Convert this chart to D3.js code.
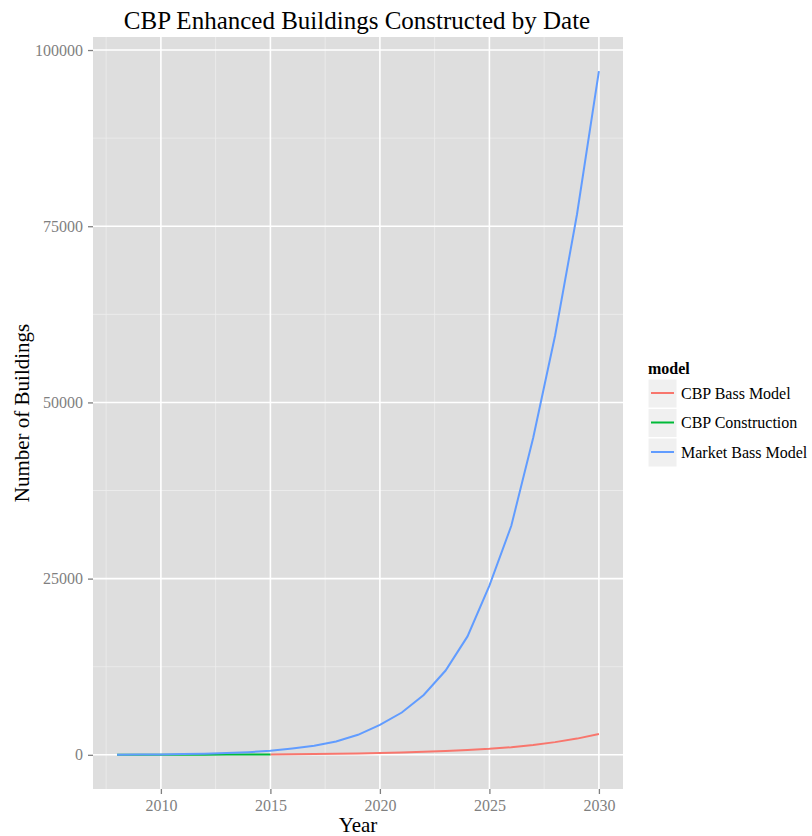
<!DOCTYPE html>
<html>
<head>
<meta charset="utf-8">
<title>CBP Enhanced Buildings Constructed by Date</title>
<script src="https://d3js.org/d3.v7.min.js"></script>
<style>
  body { margin: 0; background: #fff; }
  text { font-family: "Liberation Serif", "DejaVu Serif", serif; }
</style>
</head>
<body>
<div id="chart"></div>
<script>
// data
var seriesNames = ["CBP Bass Model", "CBP Construction", "Market Bass Model"]
var seriesColors = ["#F8766D", "#00BA38", "#619CFF"]

var bassYears = [2015, 2016, 2017, 2018, 2019, 2020, 2021, 2022, 2023, 2024, 2025, 2026, 2027, 2028, 2029, 2030]
var bassValues = [60, 80, 110, 150, 190, 250, 330, 430, 550, 700, 850, 1080, 1400, 1800, 2300, 2950]

var constructionYears = [2008, 2009, 2010, 2011, 2012, 2013, 2014, 2015]
var constructionValues = [0, 5, 10, 15, 20, 30, 40, 60]

var marketYears = [2008, 2009, 2010, 2011, 2012, 2013, 2014, 2015, 2016, 2017, 2018, 2019, 2020, 2021, 2022, 2023, 2024, 2025, 2026, 2027, 2028, 2029, 2030]
var marketValues = [10, 30, 60, 100, 160, 250, 380, 570, 900, 1280, 1890, 2840, 4250, 6000, 8500, 11960, 16800, 24000, 32500, 45000, 59500, 76700, 97000]

var xTicks = [2010, 2015, 2020, 2025, 2030]
var xMinor = [2007.5, 2012.5, 2017.5, 2022.5, 2027.5]
var yTicks = [0, 25000, 50000, 75000, 100000]
var yMinor = [12500, 37500, 62500, 87500]

var width = 812, height = 836
var panel = {left: 93, right: 623, top: 37, bottom: 789}

var svg = d3.select("#chart").append("svg")
  .attr("width", width)
  .attr("height", height)

// ggplot style expanded ranges
var xmin = 2008, xmax = 2030
var ymax = d3.max(marketValues)
var x = d3.scaleLinear()
  .domain([xmin - 0.05 * (xmax - xmin), xmax + 0.05 * (xmax - xmin)])
  .range([panel.left, panel.right])
var y = d3.scaleLinear()
  .domain([-0.05 * ymax, 1.05 * ymax])
  .range([panel.bottom, panel.top])

// panel background
svg.append("rect")
  .attr("x", panel.left).attr("y", panel.top)
  .attr("width", panel.right - panel.left)
  .attr("height", panel.bottom - panel.top)
  .attr("fill", "#dedede")

// minor grid
svg.append("g").selectAll("line").data(xMinor).join("line")
  .attr("x1", d => x(d)).attr("x2", d => x(d))
  .attr("y1", panel.top).attr("y2", panel.bottom)
  .attr("stroke", "#ededed").attr("stroke-width", 0.8)
svg.append("g").selectAll("line").data(yMinor).join("line")
  .attr("y1", d => y(d)).attr("y2", d => y(d))
  .attr("x1", panel.left).attr("x2", panel.right)
  .attr("stroke", "#ededed").attr("stroke-width", 0.8)

// major grid
svg.append("g").selectAll("line").data(xTicks).join("line")
  .attr("x1", d => x(d)).attr("x2", d => x(d))
  .attr("y1", panel.top).attr("y2", panel.bottom)
  .attr("stroke", "#fff").attr("stroke-width", 1.6)
svg.append("g").selectAll("line").data(yTicks).join("line")
  .attr("y1", d => y(d)).attr("y2", d => y(d))
  .attr("x1", panel.left).attr("x2", panel.right)
  .attr("stroke", "#fff").attr("stroke-width", 1.6)

// axes
var xAxis = svg.append("g")
  .attr("transform", "translate(0," + panel.bottom + ")")
  .call(d3.axisBottom(x).tickValues(xTicks).tickFormat(d3.format("d")).tickSize(5).tickPadding(6))
var yAxis = svg.append("g")
  .attr("transform", "translate(" + panel.left + ",0)")
  .call(d3.axisLeft(y).tickValues(yTicks).tickFormat(d3.format("d")).tickSize(5).tickPadding(5))
;[xAxis, yAxis].forEach(function(a) {
  a.select(".domain").remove()
  a.selectAll(".tick line").attr("stroke", "#7f7f7f").attr("stroke-width", 1.3)
  a.selectAll(".tick text")
    .attr("fill", "#7f7f7f")
    .style("font-family", "'Liberation Serif', serif")
    .style("font-size", "16px")
})

// lines
var line = d3.line().x(d => x(d[0])).y(d => y(d[1]))
var seriesData = [
  d3.zip(bassYears, bassValues),
  d3.zip(constructionYears, constructionValues),
  d3.zip(marketYears, marketValues)
]
svg.append("g").selectAll("path").data(seriesData).join("path")
  .attr("d", line)
  .attr("fill", "none")
  .attr("stroke", (d, i) => seriesColors[i])
  .attr("stroke-width", 2)

// titles
svg.append("text")
  .attr("x", (panel.left + panel.right) / 2 - 1).attr("y", 29)
  .attr("text-anchor", "middle")
  .style("font-size", "25px")
  .text("CBP Enhanced Buildings Constructed by Date")
svg.append("text")
  .attr("x", (panel.left + panel.right) / 2).attr("y", 832)
  .attr("text-anchor", "middle")
  .style("font-size", "21px")
  .text("Year")
svg.append("text")
  .attr("transform", "translate(29," + (panel.top + panel.bottom) / 2 + ") rotate(-90)")
  .attr("text-anchor", "middle")
  .style("font-size", "21px")
  .text("Number of Buildings")

// legend
var legend = svg.append("g").attr("transform", "translate(648,360)")
legend.append("text")
  .attr("x", 0).attr("y", 14)
  .style("font-size", "16px").style("font-weight", "bold")
  .text("model")
var keys = legend.selectAll("g.key").data(seriesNames).join("g")
  .attr("class", "key")
  .attr("transform", (d, i) => "translate(0," + (19 + i * 29.5) + ")")
keys.append("rect")
  .attr("width", 29).attr("height", 29)
  .attr("fill", "#f0f0f0").attr("stroke", "#fff").attr("stroke-width", 1)
keys.append("line")
  .attr("x1", 3).attr("x2", 26).attr("y1", 14).attr("y2", 14)
  .attr("stroke", (d, i) => seriesColors[i]).attr("stroke-width", 2)
keys.append("text")
  .attr("x", 33).attr("y", 19.5)
  .style("font-size", "16px")
  .text(d => d)
</script>
</body>
</html>
